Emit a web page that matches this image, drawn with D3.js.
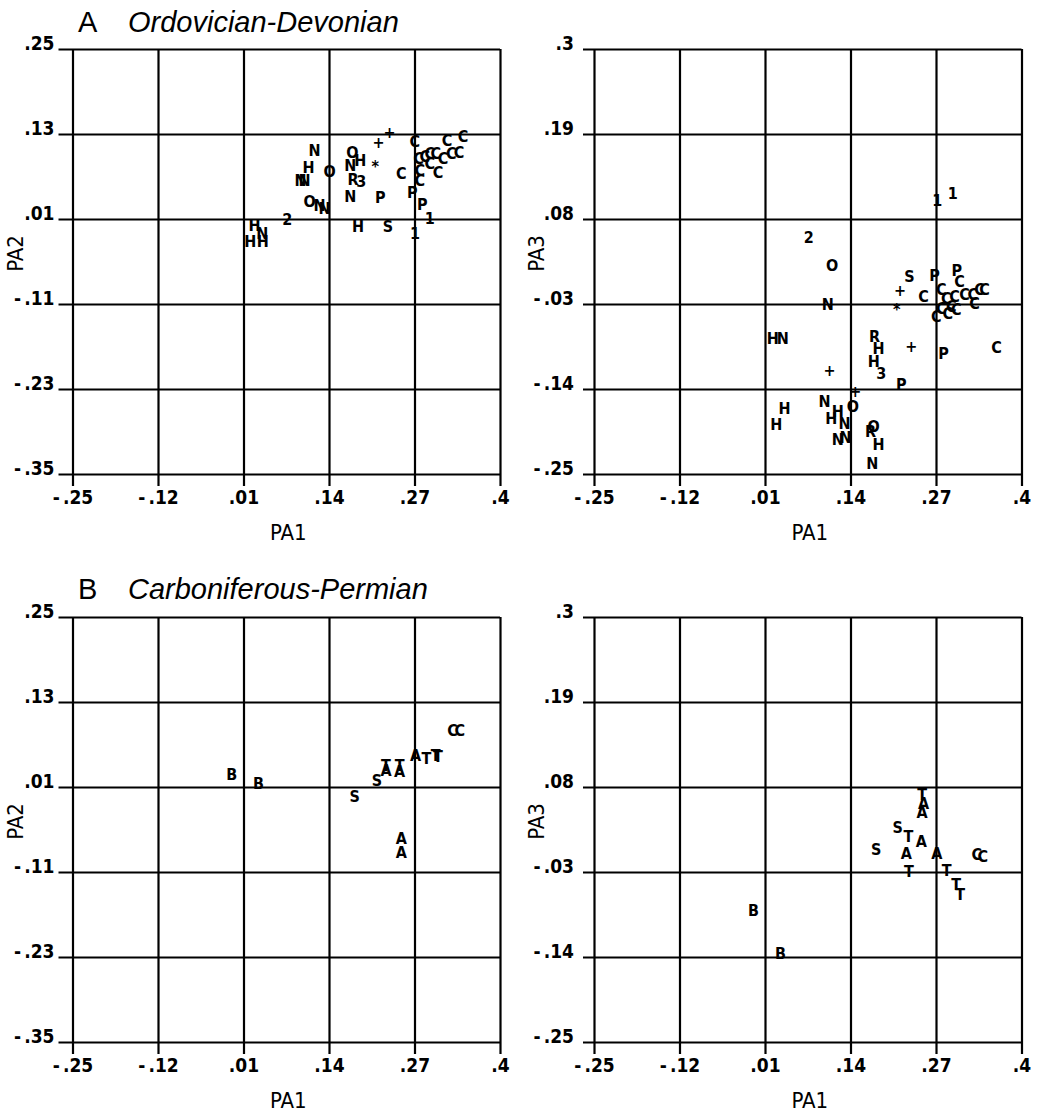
<!DOCTYPE html>
<html>
<head>
<meta charset="utf-8">
<script src="https://cdn.jsdelivr.net/npm/d3@7"></script>
<style>
  html, body { margin: 0; padding: 0; background: #fff; }
  svg { display: block; }
</style>
</head>
<body>
<svg id="chart" width="1039" height="1119"></svg>
<script>
// ---------- tick values / labels ----------
const xTicks = [-0.25, -0.12, 0.01, 0.14, 0.27, 0.40];
const xTickLabels = ["-.25", "-.12", ".01", ".14", ".27", ".4"];
const yTicksPA2 = [0.25, 0.13, 0.01, -0.11, -0.23, -0.35];
const yTickLabelsPA2 = [".25", ".13", ".01", "-.11", "-.23", "-.35"];
const yTicksPA3 = [0.30, 0.19, 0.08, -0.03, -0.14, -0.25];
const yTickLabelsPA3 = [".3", ".19", ".08", "-.03", "-.14", "-.25"];

// ---------- A: Ordovician-Devonian, PA1 vs PA2 ----------
const aPA2Labels = ["+","+","C","C","C","C","C","C","C","C","C","C","C","C","C","C","C",
  "*","O","H","N","R","3","N","P","P","P","1","1","S","H",
  "N","H","N","N","O","O","N","N","2","H","N","H","H"];
const aPA2x = [0.232,0.2155,0.2703,0.3194,0.3438,0.2763,0.2855,0.2931,0.3022,0.3133,0.3261,0.3377,0.2931,0.3057,0.2779,0.2779,0.25,
  0.2104,0.1754,0.1876,0.1724,0.1764,0.1891,0.1724,0.2181,0.2668,0.282,0.2931,0.2707,0.2296,0.184,
  0.118,0.1089,0.0968,0.1028,0.1409,0.1105,0.1257,0.1333,0.0765,0.0267,0.0385,0.0202,0.0394];
const aPA2y = [0.132,0.1177,0.1191,0.1215,0.1262,0.0961,0.098,0.1028,0.1028,0.0957,0.1028,0.1036,0.0887,0.0754,0.0792,0.0651,0.0745,
  0.0838,0.1042,0.0933,0.0862,0.0665,0.0627,0.0425,0.0406,0.0471,0.0308,0.011,-0.0102,-0.0009,0.0001,
  0.1064,0.0834,0.0651,0.0651,0.0768,0.0344,0.0298,0.0251,0.0096,0.0015,-0.0102,-0.022,-0.022];

// ---------- A: Ordovician-Devonian, PA1 vs PA3 ----------
const aPA3Labels = ["1","1","2","O","S","P","P","+","C","N","*",
  "C","C","C","C","C","C","C","C","C","C","C","C","C","C",
  "H","N","R","H","H","3","+","P","C","+","P","+","N","O","H","H","H","H","N","N","N","O","R","H","N"];
const aPA3x = [0.2718,0.2955,0.0766,0.1122,0.2297,0.2677,0.3016,0.2155,0.251,0.1055,0.2104,
  0.2779,0.3057,0.2855,0.2981,0.3133,0.3259,0.3361,0.3437,0.3285,0.2931,0.2779,0.2879,0.3007,0.2703,
  0.0219,0.0371,0.1765,0.1826,0.1754,0.1867,0.2323,0.2814,0.3619,0.1081,0.2171,0.1471,0.1005,0.1435,0.0397,0.0271,0.1207,0.1107,0.1309,0.1207,0.1324,0.175,0.1704,0.1826,0.173];
const aPA3y = [0.1038,0.1136,0.0563,0.0201,0.0058,0.0071,0.0132,-0.0127,-0.02,-0.03,-0.0372,
  -0.0114,-0.0006,-0.0222,-0.02,-0.0178,-0.0178,-0.0114,-0.0114,-0.0287,-0.033,-0.0352,-0.0416,-0.0372,-0.0459,
  -0.074,-0.074,-0.0718,-0.0877,-0.1041,-0.1193,-0.0847,-0.0938,-0.086,-0.1162,-0.1343,-0.143,-0.1559,-0.1624,-0.1646,-0.186,-0.1688,-0.1775,-0.184,-0.2055,-0.2025,-0.1883,-0.1947,-0.2112,-0.2358];

// ---------- B: Carboniferous-Permian, PA1 vs PA2 ----------
const bPA2Labels = ["B","B","S","S","A","T","A","T","A","T","T","T","A","A","C","C"];
const bPA2x = [-0.0078,0.0328,0.179,0.2129,0.2266,0.2266,0.2474,0.2474,0.2718,0.288,0.3022,0.3057,0.25,0.25,0.328,0.339];
const bPA2y = [0.0284,0.0152,-0.0027,0.0189,0.033,0.0411,0.0316,0.0411,0.0552,0.0505,0.0552,0.0528,-0.0624,-0.0828,0.0905,0.0905];

// ---------- B: Carboniferous-Permian, PA1 vs PA3 ----------
const bPA3Labels = ["T","A","A","S","T","A","S","A","A","C","C","T","T","T","T","B","B"];
const bPA3x = [0.249,0.2511,0.249,0.2119,0.2282,0.2475,0.1791,0.2247,0.2712,0.332,0.3411,0.2287,0.2864,0.3007,0.3067,-0.0074,0.0336];
const bPA3y = [0.0709,0.0593,0.0476,0.0278,0.0162,0.0097,-0.001,-0.0054,-0.0054,-0.0067,-0.0097,-0.0291,-0.0278,-0.0463,-0.0592,-0.08,-0.1348];

// ---------- layout ----------
const svg = d3.select("#chart");
const plotW = 427.5, plotH = 425;
const tickFont = "'DejaVu Sans Condensed', 'DejaVu Sans', sans-serif";

function splitMinus(sel, label) {
  sel.text(null);
  if (label.startsWith("-")) {
    sel.append("tspan").text("-");
    sel.append("tspan").attr("dx", 3).text(label.slice(1));
  } else {
    sel.text(label);
  }
}

function panel(cfg) {
  const g = svg.append("g").attr("transform", `translate(${cfg.left},${cfg.top})`);
  const x = d3.scaleLinear().domain([-0.25, 0.40]).range([0, plotW]);
  const y = d3.scaleLinear().domain([cfg.yTicks[cfg.yTicks.length - 1], cfg.yTicks[0]]).range([plotH, 0]);

  // vertical grid + bottom ticks + labels
  const xAxis = d3.axisBottom(x).tickValues(xTicks).tickSize(plotH + 12).tickPadding(5)
    .tickFormat((d, i) => xTickLabels[i]);
  const gx = g.append("g").call(xAxis);
  gx.select(".domain").remove();
  gx.selectAll(".tick line").attr("stroke", "#000").attr("stroke-width", 2.2);
  gx.selectAll(".tick text").attr("fill", "#000").style("font-family", tickFont).style("font-size", "19px")
    .style("font-weight", "bold")
    .each(function(d, i) { splitMinus(d3.select(this), xTickLabels[i]); });

  // horizontal grid + left ticks + labels
  const yAxis = d3.axisLeft(y).tickValues(cfg.yTicks).tickSize(plotW + cfg.yTickLen).tickPadding(cfg.yPad)
    .tickFormat((d, i) => cfg.yLabels[i]);
  const gy = g.append("g").attr("transform", `translate(${plotW},0)`).call(yAxis);
  gy.select(".domain").remove();
  gy.selectAll(".tick line").attr("stroke", "#000").attr("stroke-width", 2.2);
  gy.selectAll(".tick text").attr("fill", "#000").style("font-family", tickFont).style("font-size", "19px")
    .style("font-weight", "bold")
    .attr("dy", "0.05em")
    .each(function(d, i) { splitMinus(d3.select(this), cfg.yLabels[i]); });

  // point labels
  g.append("g").selectAll("text").data(cfg.labels).join("text")
    .attr("x", (d, i) => x(cfg.xs[i]))
    .attr("y", (d, i) => y(cfg.ys[i]))
    .attr("text-anchor", "middle")
    .attr("dy", "0.36em")
    .style("font-family", tickFont)
    .style("font-size", "16px")
    .style("font-weight", "bold")
    .attr("fill", "#000")
    .text(d => d);

  // axis titles
  g.append("text").attr("x", plotW / 2 + 2).attr("y", plotH + 66)
    .attr("text-anchor", "middle").style("font-family", tickFont).style("font-size", "22px")
    .text("PA1");
  g.append("text").attr("transform", `translate(${cfg.yTitleX},${plotH / 2 - 8}) rotate(-90)`)
    .attr("text-anchor", "middle").style("font-family", tickFont).style("font-size", "22px")
    .text(cfg.yTitle);
}

function title(letter, name, baseline) {
  const t = svg.append("text").attr("y", baseline)
    .style("font-family", "'Liberation Sans', Arial, sans-serif").style("font-size", "29px").attr("fill", "#000");
  t.append("tspan").attr("x", 78).text(letter);
  t.append("tspan").attr("x", 128).style("font-style", "italic").text(name);
}

title("A", "Ordovician-Devonian", 32);
title("B", "Carboniferous-Permian", 599);

panel({ left: 72.5, top: 49, yTicks: yTicksPA2, yLabels: yTickLabelsPA2, yTickLen: 14, yPad: 4,
  labels: aPA2Labels, xs: aPA2x, ys: aPA2y, yTitle: "PA2", yTitleX: -50 });
panel({ left: 594, top: 49, yTicks: yTicksPA3, yLabels: yTickLabelsPA3, yTickLen: 11, yPad: 9,
  labels: aPA3Labels, xs: aPA3x, ys: aPA3y, yTitle: "PA3", yTitleX: -50 });
panel({ left: 72.5, top: 617, yTicks: yTicksPA2, yLabels: yTickLabelsPA2, yTickLen: 14, yPad: 4,
  labels: bPA2Labels, xs: bPA2x, ys: bPA2y, yTitle: "PA2", yTitleX: -50 });
panel({ left: 594, top: 617, yTicks: yTicksPA3, yLabels: yTickLabelsPA3, yTickLen: 11, yPad: 9,
  labels: bPA3Labels, xs: bPA3x, ys: bPA3y, yTitle: "PA3", yTitleX: -50 });
</script>
</body>
</html>
